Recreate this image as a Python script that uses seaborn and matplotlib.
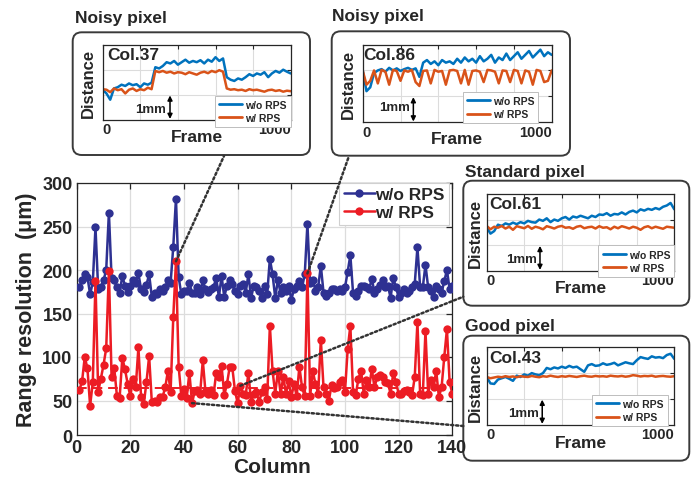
import numpy as np
import pandas as pd
import matplotlib
matplotlib.use("Agg")
import matplotlib.pyplot as plt
import seaborn as sns
from matplotlib.patches import FancyBboxPatch, ConnectionPatch
from matplotlib.transforms import IdentityTransform
from matplotlib.lines import Line2D

# ---------------- main chart data ----------------
columns = list(range(1, 141))
wo_rps = [180, 188, 195, 192, 172, 186, 249, 178, 180, 188, 200, 266, 191, 188, 180, 174, 193, 182, 175, 182,
          188, 185, 196, 178, 175, 183, 195, 169, 174, 172, 178, 176, 180, 188, 185, 227, 282, 192, 172, 176,
          176, 185, 174, 174, 180, 172, 188, 178, 175, 178, 180, 191, 169, 193, 169, 182, 188, 184, 176, 172,
          182, 184, 174, 195, 168, 182, 180, 176, 168, 182, 172, 213, 195, 168, 189, 173, 181, 176, 182, 166,
          178, 182, 187, 180, 195, 253, 185, 189, 176, 180, 205, 174, 170, 174, 178, 178, 176, 178, 176, 180,
          198, 217, 174, 170, 176, 182, 182, 181, 178, 190, 174, 178, 183, 188, 180, 182, 168, 191, 180, 169,
          174, 178, 174, 176, 180, 184, 226, 181, 180, 206, 180, 176, 169, 182, 178, 174, 187, 200, 178, 182]
w_rps = [62, 72, 100, 87, 44, 71, 187, 60, 75, 91, 110, 199, 77, 87, 55, 53, 99, 86, 69, 55,
         75, 65, 111, 54, 46, 71, 101, 48, 50, 48, 54, 54, 65, 84, 60, 146, 210, 89, 55, 63,
         53, 82, 47, 61, 62, 58, 96, 60, 58, 62, 56, 82, 77, 90, 56, 69, 88, 88, 61, 47,
         67, 58, 56, 82, 48, 58, 60, 48, 60, 65, 52, 136, 84, 58, 84, 58, 77, 58, 72, 54,
         69, 55, 89, 65, 55, 196, 55, 84, 69, 58, 120, 65, 58, 50, 68, 64, 65, 71, 73, 60,
         109, 136, 60, 56, 75, 84, 58, 73, 65, 86, 65, 77, 79, 77, 71, 70, 58, 82, 71, 58,
         57, 61, 62, 60, 56, 77, 140, 58, 56, 130, 58, 74, 65, 84, 54, 65, 100, 132, 71, 58]
red_ref = 64
series_names = ["w/o RPS", "w/ RPS"]
x_ticks = [0, 20, 40, 60, 80, 100, 120, 140]
y_ticks = [10, 50, 100, 150, 200, 250, 300]
y_tick_labels = ["0", "50", "100", "150", "200", "250", "300"]

# ---------------- inset data (distance in mm vs frame) ----------------
frames = list(range(0, 1001, 20))
col37_wo = [1.20, 1.05, 0.80, 1.25, 1.30, 1.40, 1.35, 1.45, 1.38, 1.42, 1.30, 1.45, 1.40, 1.48,
            2.10, 2.05, 2.15, 2.30, 2.25, 2.35, 2.20, 2.30, 2.40, 2.28, 2.35, 2.30, 2.38, 2.25, 2.40, 2.32, 2.50, 2.35, 2.45,
            1.70, 1.60, 1.55, 1.65, 1.60, 1.70, 1.82, 1.75, 1.85, 1.80, 1.90, 1.70, 1.85, 1.95, 1.88, 2.00, 1.92, 1.85]
col37_w = [1.22, 1.20, 1.10, 1.25, 1.18, 1.22, 1.05, 1.20, 1.25, 1.15, 1.22, 1.18, 1.28, 1.22,
           1.95, 1.90, 1.95, 1.88, 1.92, 1.85, 1.90, 1.88, 1.82, 1.90, 1.85, 1.80, 1.88, 1.92, 1.86, 1.95, 1.90, 1.98, 1.92,
           1.25, 1.20, 1.22, 1.18, 1.20, 1.15, 1.22, 1.18, 1.20, 1.16, 1.12, 1.18, 1.20, 1.15, 1.18, 1.12, 1.16, 1.14]
col86_wo = [2.00, 1.20, 1.35, 1.90, 2.00, 2.05, 1.95, 2.10, 2.00, 2.08, 1.98, 2.05, 2.10, 2.02, 2.08, 1.75, 2.30,
            2.40, 2.25, 2.35, 2.20, 2.40, 2.30, 2.35, 2.25, 2.45, 2.30, 2.50, 2.35, 2.45, 2.30, 2.55, 2.35, 2.45,
            2.60, 2.30, 2.50, 2.40, 2.65, 2.40, 2.55, 2.70, 2.45, 2.60, 2.75, 2.50, 2.65, 2.80, 2.55, 2.70, 2.60]
col86_w = [2.00, 1.45, 1.60, 2.00, 1.50, 2.02, 1.95, 1.45, 2.02, 1.98, 1.60, 2.00, 1.95, 2.02, 1.55, 1.40, 1.98,
           2.00, 1.50, 2.02, 1.95, 1.98, 1.45, 2.00, 2.02, 1.98, 1.50, 2.02, 1.45, 1.98, 2.00, 1.95, 1.55, 2.02,
           2.00, 1.95, 1.50, 2.00, 1.98, 1.55, 2.02, 1.98, 1.50, 2.00, 1.95, 1.45, 2.02, 1.98, 1.55, 1.60, 2.00]
col61_wo = [1.70, 1.45, 1.55, 1.80, 1.75, 1.85, 1.80, 1.88, 1.82, 1.90, 1.85, 1.95, 1.90, 1.88, 2.00, 1.95, 2.05,
            1.90, 2.00, 1.95, 2.05, 2.10, 2.00, 2.12, 2.08, 2.15, 2.10, 2.05, 2.15, 2.10, 2.20, 2.18, 2.25, 2.15,
            2.22, 2.20, 2.28, 2.20, 2.30, 2.35, 2.28, 2.40, 2.35, 2.42, 2.38, 2.45, 2.40, 2.50, 2.55, 2.65, 2.40]
col61_w = [1.75, 1.62, 1.72, 1.68, 1.75, 1.65, 1.72, 1.60, 1.74, 1.70, 1.66, 1.75, 1.64, 1.72, 1.68, 1.62, 1.74,
           1.70, 1.65, 1.72, 1.75, 1.68, 1.70, 1.64, 1.72, 1.75, 1.66, 1.70, 1.72, 1.65, 1.74, 1.68, 1.70, 1.62,
           1.72, 1.66, 1.74, 1.70, 1.65, 1.72, 1.68, 1.60, 1.70, 1.74, 1.66, 1.72, 1.68, 1.64, 1.72, 1.70, 1.68]
col43_wo = [1.85, 1.60, 1.58, 1.75, 1.80, 1.85, 1.78, 1.70, 1.90, 1.85, 1.95, 1.90, 2.00, 1.95, 1.92, 2.00, 2.20,
            2.15, 2.22, 2.18, 2.25, 2.20, 2.28, 2.22, 2.25, 2.15, 2.05, 2.30, 2.35, 2.28, 2.30, 2.38, 2.32, 2.35,
            2.40, 2.30, 2.36, 2.42, 2.38, 2.35, 2.50, 2.62, 2.58, 2.55, 2.65, 2.60, 2.62, 2.58, 2.70, 2.75, 2.55]
col43_w = [1.85, 1.80, 1.83, 1.86, 1.84, 1.88, 1.85, 1.87, 1.84, 1.88, 1.86, 1.85, 1.89, 1.86, 1.84, 1.88, 1.86,
           1.90, 1.87, 1.85, 1.88, 1.86, 1.89, 1.87, 1.85, 1.88, 1.90, 1.87, 1.86, 1.89, 1.87, 1.88, 1.86, 1.90,
           1.88, 1.87, 1.89, 1.86, 1.88, 1.92, 1.90, 1.87, 1.89, 1.88, 1.90, 1.86, 1.88, 1.89, 1.87, 1.86, 1.88]
inset_titles = ["Noisy pixel", "Noisy pixel", "Standard pixel", "Good pixel"]
inset_cols = ["Col.37", "Col.86", "Col.61", "Col.43"]
inset_linked_columns = [37, 86, 61, 43]

# ---------------- style ----------------
sns.set_style("white")
plt.rcParams["font.family"] = ["Liberation Sans", "DejaVu Sans"]
plt.rcParams["font.weight"] = "bold"
TXT = "#262626"
BLUE, RED = "#2E3192", "#EC1C24"
IBLUE, IORANGE = "#0072BD", "#D95319"
GRID = "#DCDCDC"

W, H = 696, 485
fig = plt.figure(figsize=(W / 100, H / 100), dpi=100)


def fr(x0, y0, x1, y1):
    """pixel box (top-left origin) -> figure fraction rect"""
    return [x0 / W, 1 - y1 / H, (x1 - x0) / W, (y1 - y0) / H]


# ---------------- main axes ----------------
ax = fig.add_axes(fr(76.7, 184.0, 452.3, 436.3))
df = pd.DataFrame({
    "Column": columns + columns,
    "value": wo_rps + w_rps,
    "series": [series_names[0]] * len(columns) + [series_names[1]] * len(columns),
})
sns.lineplot(data=df, x="Column", y="value", hue="series", palette=[BLUE, RED],
             marker="o", markersize=6, markeredgewidth=0, linewidth=1.8,
             ax=ax, legend=False, zorder=3)
ax.axhline(red_ref, color=RED, ls=(0, (5, 3)), lw=1.4, zorder=2)
ax.set_xlim(0, 140)
ax.set_ylim(10, 300)
ax.set_xticks(x_ticks)
ax.set_yticks(y_ticks)
ax.set_yticklabels(y_tick_labels)
ax.grid(True, color=GRID, lw=0.9)
ax.set_axisbelow(True)
ax.tick_params(direction="in", length=4, width=0.9, colors=TXT, labelsize=13,
               top=True, right=True, pad=3)
for lab in ax.get_xticklabels() + ax.get_yticklabels():
    lab.set_fontweight("bold")
    lab.set_color(TXT)
for s in ax.spines.values():
    s.set_color(TXT)
    s.set_linewidth(0.9)
ax.set_xlabel("Column", fontsize=15, fontweight="bold", color=TXT, labelpad=1)
ax.xaxis.set_label_coords(0.52, -0.085)
ax.set_ylabel("Range resolution  (\u03bcm)", fontsize=15.5, fontweight="bold", color=TXT, labelpad=4)

handles = [Line2D([], [], color=BLUE, marker="o", markersize=6, markeredgewidth=0, lw=1.8),
           Line2D([], [], color=RED, marker="o", markersize=6, markeredgewidth=0, lw=1.8)]
leg = ax.legend(handles, series_names, loc="upper right", bbox_to_anchor=(0.99, 1.0),
                borderaxespad=0.0, fancybox=False, framealpha=1, edgecolor="#D0D0D0",
                prop={"weight": "bold", "size": 12.5}, handlelength=1.8, handletextpad=0.0,
                labelspacing=0.15, borderpad=0.25)
leg.get_frame().set_linewidth(0.8)
for t in leg.get_texts():
    t.set_color(TXT)

# ---------------- insets ----------------
inset_specs = [
    dict(box=(72.7, 33.3, 310, 156), axr=(102.7, 45.7, 290.7, 120.7), title=(75, 18),
         colx=0.025, leg=(1.0, 0.32), arx=358, tx=337, ty=0.43, dist_x=-0.077, frame_y=-0.23,
         wo=col37_wo, w=col37_w),
    dict(box=(331.7, 32.3, 570, 156.7), axr=(362.7, 45.5, 551.7, 123.3), title=(332, 17),
         colx=0.005, leg=(0.93, 0.39), arx=268, tx=250, ty=0.58, dist_x=-0.076, frame_y=-0.21,
         wo=col86_wo, w=col86_w),
    dict(box=(463.3, 181.7, 689.3, 306.7), axr=(486.7, 195.0, 674.3, 271.7), title=(465, 173),
         colx=0.015, leg=(1.0, 0.33), arx=284, tx=270, ty=0.46, dist_x=-0.062, frame_y=-0.217,
         wo=col61_wo, w=col61_w),
    dict(box=(463.3, 336.7, 689.3, 461.7), axr=(486.7, 348.3, 674.3, 425.7), title=(465, 326),
         colx=0.012, leg=(0.965, 0.385), arx=296, tx=280, ty=0.44, dist_x=-0.062, frame_y=-0.227,
         wo=col43_wo, w=col43_w),
]

box_end_points = [(224, 157), (349, 157), (463.3, 297.7), (463.3, 427.0)]

for i, sp in enumerate(inset_specs):
    bx0, by0, bx1, by1 = sp["box"]
    box = FancyBboxPatch((bx0, H - by1), bx1 - bx0, by1 - by0,
                         boxstyle="round,pad=0,rounding_size=9", transform=IdentityTransform(),
                         facecolor="white", edgecolor="#3A3A3A", lw=1.4, zorder=-1)
    fig.add_artist(box)
    fig.text(sp["title"][0] / W, 1 - sp["title"][1] / H, inset_titles[i], fontsize=12.5,
             fontweight="bold", color=TXT, ha="left", va="center")

    ia = fig.add_axes(fr(*sp["axr"]))
    idf = pd.DataFrame({
        "Frame": frames + frames,
        "Distance": sp["wo"] + sp["w"],
        "series": [series_names[0]] * len(frames) + [series_names[1]] * len(frames),
    })
    sns.lineplot(data=idf, x="Frame", y="Distance", hue="series", palette=[IBLUE, IORANGE],
                 linewidth=1.8, ax=ia, legend=False)
    ia.set_xlim(0, 1000)
    ia.set_ylim(0, 3)
    ia.set_xticks([0, 200, 400, 600, 800, 1000])
    ia.set_xticklabels(["0", "", "", "", "", "1000"])
    ia.set_yticks([1, 2])
    ia.set_yticklabels(["", ""])
    ia.grid(True, color=GRID, lw=0.8)
    ia.set_axisbelow(True)
    ia.tick_params(direction="in", length=3, width=0.8, colors=TXT, labelsize=10.5,
                   top=True, right=True, pad=2)
    tl = ia.get_xticklabels()
    tl[0].set_ha("left")
    tl[-1].set_ha("right")
    for lab in tl:
        lab.set_fontweight("bold")
    for s in ia.spines.values():
        s.set_color(TXT)
        s.set_linewidth(0.9)
    ia.set_xlabel("")
    ia.set_ylabel("")
    ia.text(0.5, sp["frame_y"], "Frame", transform=ia.transAxes, fontsize=12.5,
            fontweight="bold", color=TXT, ha="center", va="center")
    ia.text(sp["dist_x"], 0.5, "Distance", transform=ia.transAxes, fontsize=12,
            fontweight="bold", color=TXT, ha="center", va="center", rotation=90)
    ia.text(sp["colx"], 0.97, inset_cols[i], transform=ia.transAxes, fontsize=12.5,
            fontweight="bold", color=TXT, ha="left", va="top")
    ia.annotate("", xy=(sp["arx"], 0.97), xytext=(sp["arx"], 0.03),
                arrowprops=dict(arrowstyle="<|-|>", color="black", lw=1.1,
                                mutation_scale=7, shrinkA=0, shrinkB=0))
    ia.text(sp["tx"], sp["ty"], "1mm", fontsize=9.5, fontweight="bold", color=TXT,
            ha="right", va="center")
    ih = [Line2D([], [], color=IBLUE, lw=2), Line2D([], [], color=IORANGE, lw=2)]
    il = ia.legend(ih, series_names, loc="upper right", bbox_to_anchor=sp["leg"],
                   borderaxespad=0.0, fancybox=False, framealpha=1, edgecolor="#BDBDBD",
                   prop={"weight": "bold", "size": 7.5}, handlelength=2.2, handletextpad=0.3,
                   labelspacing=0.3, borderpad=0.4)
    il.get_frame().set_linewidth(0.7)
    for t in il.get_texts():
        t.set_color(TXT)

    # dotted connector from the main plot point to the inset box
    c = inset_linked_columns[i]
    ex, ey = box_end_points[i]
    con = ConnectionPatch(xyA=(c, w_rps[c - 1]), coordsA=ax.transData,
                          xyB=(ex, H - ey), coordsB="figure pixels",
                          color="#333333", lw=1.8, linestyle=(0, (0.9, 1.1)), zorder=10)
    fig.add_artist(con)

fig.savefig("out.png", dpi=100)
